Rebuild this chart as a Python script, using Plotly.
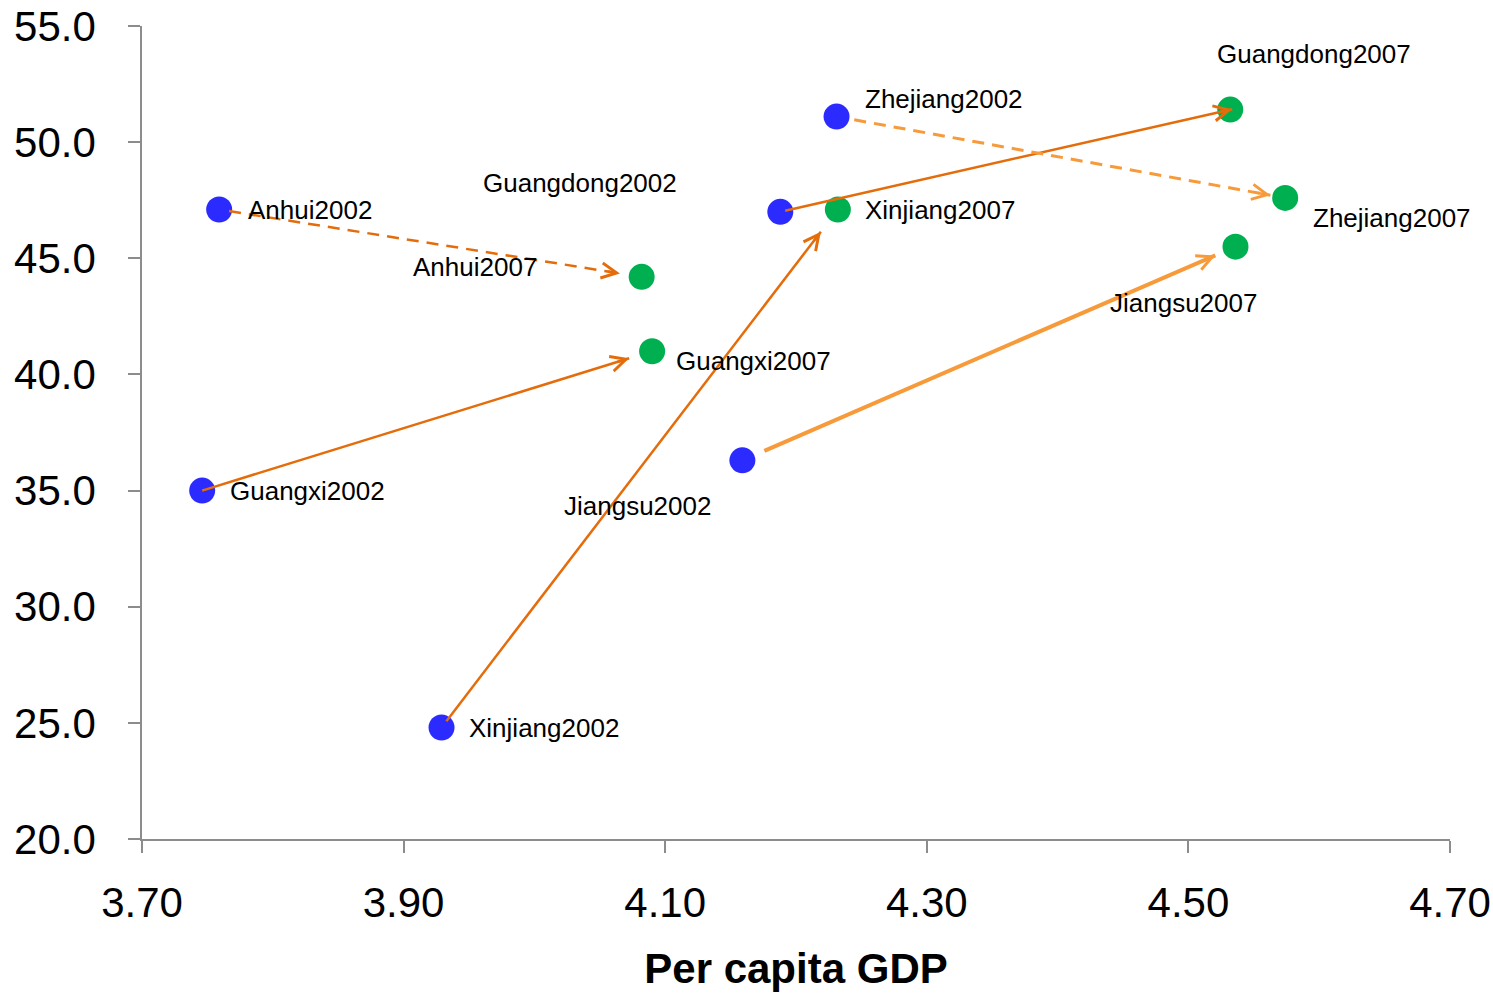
import math
import plotly.graph_objects as go

# ---------------- data ----------------
provinces = ["Anhui", "Guangxi", "Xinjiang", "Jiangsu", "Guangdong", "Zhejiang"]
gdp_2002 = [3.759, 3.746, 3.929, 4.159, 4.188, 4.231]
val_2002 = [47.1, 35.0, 24.8, 36.3, 47.0, 51.1]
gdp_2007 = [4.082, 4.090, 4.232, 4.536, 4.532, 4.574]
val_2007 = [44.2, 41.0, 47.1, 45.5, 51.4, 47.6]
x_ticks = [3.70, 3.90, 4.10, 4.30, 4.50, 4.70]
y_ticks = [20, 25, 30, 35, 40, 45, 50, 55]
x_title = "Per capita GDP"

# ---------------- styles ----------------
W, H = 1493, 994
ML, MR, MT, MB = 142, 43, 26, 155
XR = [3.70, 4.70]
YR = [20, 55]
FONT = "Liberation Sans, Arial, sans-serif"
BLUE = "#2B2BFF"
GREEN = "#00B050"
DARK_OR = "#E46C0A"
LIGHT_OR = "#F79A3A"

# label offsets (left edge xshift, yshift) in px
lab_2002 = {
    "Anhui": (27, 0), "Guangxi": (26, 0), "Xinjiang": (25, 0),
    "Jiangsu": (-180, -46), "Guangdong": (-299, 29), "Zhejiang": (26, 18),
}
lab_2007 = {
    "Anhui": (-231, 10), "Guangxi": (22, -10), "Xinjiang": (25, 0),
    "Jiangsu": (-127, -56), "Guangdong": (-15, 56), "Zhejiang": (26, -20),
}
# arrow styles: start offset px, end offset px, colour, width, dash
arrow_style = {
    "Anhui": (10, 22, DARK_OR, 2.5, "12px,8px"),
    "Guangxi": (0, 24, DARK_OR, 2.5, "solid"),
    "Xinjiang": (8, 28, DARK_OR, 2.5, "solid"),
    "Jiangsu": (24, 22, LIGHT_OR, 4, "solid"),
    "Guangdong": (5, -2, DARK_OR, 2.5, "solid"),
    "Zhejiang": (18, 15, LIGHT_OR, 3, "12px,8px"),
}
HEAD_TAIL = 14  # px length of the short shaft carrying each arrowhead

pw, ph = W - ML - MR, H - MT - MB
sx = pw / (XR[1] - XR[0])
sy = ph / (YR[1] - YR[0])


def shorten(x0, y0, x1, y1, s0, s1):
    dx, dy = (x1 - x0) * sx, (y1 - y0) * sy
    L = math.hypot(dx, dy)
    t0, t1 = s0 / L, 1 - s1 / L
    th = 1 - (s1 + HEAD_TAIL) / L
    return (x0 + (x1 - x0) * t0, y0 + (y1 - y0) * t0,
            x0 + (x1 - x0) * t1, y0 + (y1 - y0) * t1,
            x0 + (x1 - x0) * th, y0 + (y1 - y0) * th)


fig = go.Figure()
fig.add_trace(go.Scatter(x=gdp_2002, y=val_2002, mode="markers",
                         marker=dict(size=26, color=BLUE), cliponaxis=False,
                         showlegend=False, hoverinfo="skip"))
fig.add_trace(go.Scatter(x=gdp_2007, y=val_2007, mode="markers",
                         marker=dict(size=26, color=GREEN), cliponaxis=False,
                         showlegend=False, hoverinfo="skip"))

annotations = []
for i, p in enumerate(provinces):
    s0, s1, col, lw, dash = arrow_style[p]
    xa, ya, xb, yb, xh, yh = shorten(gdp_2002[i], val_2002[i], gdp_2007[i], val_2007[i], s0, s1)
    fig.add_trace(go.Scatter(x=[xa, xb], y=[ya, yb], mode="lines",
                             line=dict(color=col, width=lw, dash=dash),
                             cliponaxis=False, showlegend=False, hoverinfo="skip"))
    annotations.append(dict(x=xb, y=yb, xref="x", yref="y", ax=xh, ay=yh,
                            axref="x", ayref="y", showarrow=True, arrowhead=5,
                            arrowsize=1.2, arrowwidth=2.5, arrowcolor=col, text=" ",
                            font=dict(size=1)))

for i, p in enumerate(provinces):
    for xs, ys, labs, yr in ((gdp_2002, val_2002, lab_2002, "2002"),
                             (gdp_2007, val_2007, lab_2007, "2007")):
        dxp, dyp = labs[p]
        annotations.append(dict(x=xs[i], y=ys[i], xref="x", yref="y", text=p + yr,
                                showarrow=False, xanchor="left", yanchor="middle",
                                xshift=dxp, yshift=dyp,
                                font=dict(family=FONT, size=26, color="#000000")))

fig.update_layout(
    width=W, height=H,
    margin=dict(l=ML, r=MR, t=MT, b=MB, pad=0, autoexpand=False),
    paper_bgcolor="white", plot_bgcolor="white",
    font=dict(family=FONT, color="#000000"),
    annotations=annotations,
    xaxis=dict(range=XR, tickvals=x_ticks, ticktext=[f"{v:.2f}" for v in x_ticks],
               showgrid=False, zeroline=False, showline=True, linecolor="#8C8C8C",
               linewidth=1.5, ticks="outside", ticklen=12, tickcolor="#8C8C8C",
               tickwidth=1.5, tickfont=dict(family=FONT, size=42, color="#000000"),
               ticklabelstandoff=14, automargin=False, ticklabeloverflow="allow",
               title=dict(text="<b>" + x_title + "</b>",
                          font=dict(family=FONT, size=42, color="#000000"), standoff=28)),
    yaxis=dict(range=YR, tickvals=y_ticks, ticktext=[f"{v:.1f}" for v in y_ticks],
               showgrid=False, zeroline=False, showline=True, linecolor="#8C8C8C",
               linewidth=1.5, ticks="outside", ticklen=12, tickcolor="#8C8C8C",
               tickwidth=1.5, tickfont=dict(family=FONT, size=42, color="#000000"),
               ticklabelstandoff=24, automargin=False, ticklabeloverflow="allow"),
)

fig.write_html("out.html",
               config={"displayModeBar": False},
               post_script="document.body.style.margin='0';"
                           "document.documentElement.style.overflow='hidden';")
